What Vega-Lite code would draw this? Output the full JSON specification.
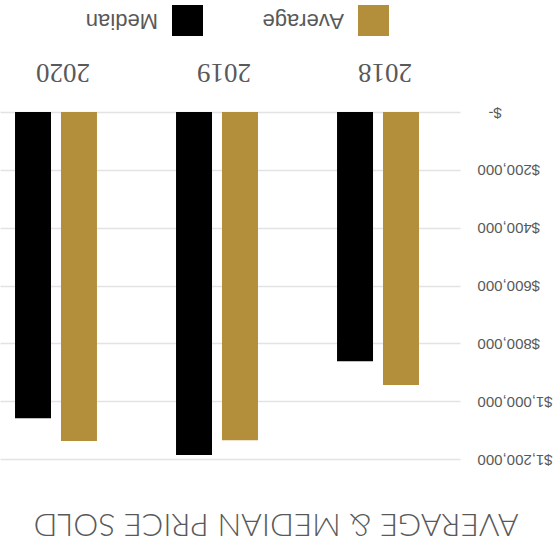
{
  "$schema": "https://vega.github.io/schema/vega-lite/v6.json",
  "autosize": "none",
  "padding": {"left": 0, "top": 112, "right": 96, "bottom": 85},
  "width": 460,
  "height": 347,
  "background": "white",
  "title": {"text": "AVERAGE & MEDIAN PRICE SOLD", "orient": "bottom", "anchor": "middle", "frame": "bounds", "angle": 180, "baseline": "bottom", "offset": 41, "font": "Lato", "fontSize": 31.5, "fontWeight": 300, "color": "#595959"},
  "data": {"values": [
    {"year": "2018", "series": "Average", "price": 944000},
    {"year": "2018", "series": "Median", "price": 862000},
    {"year": "2019", "series": "Average", "price": 1135000},
    {"year": "2019", "series": "Median", "price": 1186000},
    {"year": "2020", "series": "Average", "price": 1138000},
    {"year": "2020", "series": "Median", "price": 1059000}
  ]},
  "mark": {"type": "bar"},
  "encoding": {
    "x": {"field": "year", "type": "nominal", "sort": ["2020", "2019", "2018"],
      "scale": {"paddingInner": 0.491, "paddingOuter": 0.174, "align": 0.268},
      "axis": {"orient": "top", "title": null, "labelAngle": 180, "labelAlign": "center", "labelBaseline": "middle", "labelPadding": 41, "labelOffset": 7, "labelFont": "Liberation Serif", "labelFontSize": 27, "labelColor": "#595959", "domain": false, "ticks": false, "grid": false}},
    "xOffset": {"field": "series", "type": "nominal", "sort": ["Median", "Average"], "scale": {"paddingInner": 0.217, "paddingOuter": 0}},
    "y": {"field": "price", "type": "quantitative", "scale": {"domain": [0, 1200000], "reverse": true, "nice": false, "zero": true},
      "axis": {"orient": "right", "title": null, "values": [0, 200000, 400000, 600000, 800000, 1000000, 1200000], "labelExpr": "datum.value == 0 ? '$-\u2800' : format(datum.value, '$,.0f')", "labelAngle": 180, "labelAlign": "right", "labelBaseline": "middle", "labelPadding": 17, "labelFont": "Liberation Sans", "labelFontSize": 15, "labelColor": "#595959", "domain": false, "ticks": false, "grid": true, "gridColor": "#e3e3e3", "gridWidth": 1.3}},
    "color": {"field": "series", "type": "nominal", "scale": {"domain": ["Median", "Average"], "range": ["#000000", "#B38F3B"]},
      "legend": {"orient": "none", "legendX": 172, "legendY": -107, "direction": "horizontal", "title": null, "symbolType": "square", "symbolSize": 961, "symbolStrokeWidth": 0, "symbolOpacity": 1, "labelFont": "Liberation Sans", "labelFontSize": 22, "labelColor": "#595959", "labelOffset": -45, "columnPadding": 59, "padding": 0, "encoding": {"labels": {"angle": {"value": 180}}}}}
  },
  "config": {"view": {"stroke": null}}
}
